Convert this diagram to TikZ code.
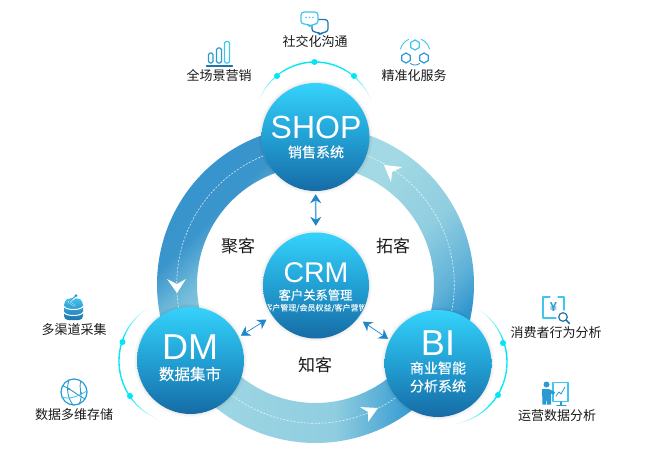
\documentclass[tikz,border=0pt]{standalone}
\usepackage{fontspec}
\setmainfont{Liberation Sans}
\newfontfamily\cjk{Noto Sans CJK SC}
\newfontfamily\cjkm[FakeBold=0.35]{Noto Sans CJK SC}
\usetikzlibrary{arrows.meta}
\definecolor{ringdark}{HTML}{2F90CB}
\definecolor{ringlight}{HTML}{A2D9E4}
\definecolor{ringmid}{HTML}{8FCDE0}
\definecolor{ringA}{HTML}{3A95CC}
\definecolor{ringB}{HTML}{6DB8D8}
\definecolor{ringC}{HTML}{3196CF}
\definecolor{ringD}{HTML}{60B2D8}
\definecolor{ringE}{HTML}{3D9FD3}
\definecolor{balltop}{HTML}{35D2FC}
\definecolor{ballmid}{HTML}{22A0D3}
\definecolor{ballbot}{HTML}{166BA6}
\definecolor{glow}{HTML}{00E6F6}
\definecolor{iconA}{HTML}{2A9AD2}
\definecolor{iconB}{HTML}{40C4F0}
\definecolor{iconC}{HTML}{1F74AE}
\definecolor{arrowblue}{HTML}{1F86CB}
\pgfdeclareverticalshading{ringleftshade}{100bp}{color(0bp)=(ringmid); color(44bp)=(ringmid); color(52bp)=(ringB); color(60bp)=(ringA); color(100bp)=(ringdark)}
\pgfdeclareverticalshading{ringrightshade}{100bp}{color(0bp)=(ringdark); color(26bp)=(ringC); color(34bp)=(ringD); color(47bp)=(ringmid); color(65bp)=(ringlight); color(100bp)=(ringlight)}
\pgfdeclareverticalshading{ringbottomshade}{100bp}{color(0bp)=(ringdark); color(33bp)=(ringE); color(46bp)=(ringmid); color(75bp)=(ringlight); color(100bp)=(ringlight)}
\tikzset{
  ball/.style={circle,inner sep=0pt,minimum size=#1,draw=none,top color=balltop,bottom color=ballbot,middle color=ballmid},
  lbl/.style={inner sep=0pt,text=black!90,font=\cjk\fontsize{13}{15}\selectfont},
  big/.style={inner sep=0pt,text=black!90,font=\cjk\fontsize{17}{19}\selectfont},
  ttl/.style={inner sep=0pt,text=white,font=\fontsize{#1}{#1}\selectfont},
  sub/.style={inner sep=0pt,text=white,font=\cjkm\fontsize{#1}{#1}\selectfont},
  twoway/.style={{Stealth[length=9pt,width=11pt]}-{Stealth[length=9pt,width=11pt]},draw=arrowblue,line width=0.7pt},
  icn/.style={draw=iconA,line width=1.2pt,line join=round,line cap=round},
  icl/.style={draw=iconB,line width=1.2pt,line join=round,line cap=round},
  icd/.style={draw=iconC,line width=1.2pt,line join=round,line cap=round},
  dot/.style={fill=glow,draw=none},
  tipw/.style={fill=white,draw=none}
}
\newcommand\ringseg[3]{\shade[#3] plot[domain=#1:#2,samples=70] ({315.5+158.5*cos(\x)},{284.5+158.5*sin(\x)}) -- plot[domain=#2:#1,samples=70] ({315.5+118.5*cos(\x)},{284.5+118.5*sin(\x)}) -- cycle;}
\newcommand\glowarc[5]{%
  \foreach \k in {0,...,49}{%
    \pgfmathsetmacro\tA{#4+(#5-#4)*\k/50}%
    \pgfmathsetmacro\tB{#4+(#5-#4)*(\k+1)/50}%
    \pgfmathsetmacro\pc{100*min(1,3.6*min((\k+.5)/50,1-(\k+.5)/50))}%
    \pgfmathsetmacro\lw{0.4+1.0*min(1,3*min((\k+.5)/50,1-(\k+.5)/50))}%
    \draw[color=glow!\pc!white,line width=\lw pt] ({#1+#3*cos(\tA)},{#2+#3*sin(\tA)}) -- ({#1+#3*cos(\tB)},{#2+#3*sin(\tB)});
  }}
\newcommand\halo[3]{\foreach \rr in {1,2,3}{\fill[black,opacity=0.025] (#1,#2) circle ({#3+\rr});}}
\newcommand\hexa[3]{\draw[#3] plot[domain=30:390,samples=7] ({#1+5*cos(\x)},{#2+5*sin(\x)}) -- cycle;}
\begin{document}
\begin{tikzpicture}[x=1pt,y=-1pt]
\useasboundingbox (0,0) rectangle (658,466);
% ring
\ringseg{33}{150}{shading=ringbottomshade,shading angle=90}
\ringseg{148}{272}{shading=ringleftshade,shading angle=45}
\ringseg{268}{393}{shading=ringrightshade,shading angle=45}
\draw[white,opacity=.8,line width=.6pt,dash pattern=on 2pt off 1.5pt] plot[domain=0:360,samples=180] ({315.5+138.8*cos(\x)},{284.5+138.8*sin(\x)});
% white ring arrowheads
\fill[tipw] (167,279) -- (177,284) -- (186,279) -- (177,293) -- cycle;
\fill[tipw] (384,165) -- (402,167) -- (392,172) -- (391,182) -- cycle;
\fill[tipw] (378,408) -- (360,407) -- (368,412) -- (368,422) -- cycle;
% glow arcs
\glowarc{315}{122}{60}{198}{342}
\glowarc{182}{361}{63}{111}{239}
\glowarc{444}{362}{63}{-59}{82}
\fill[dot] (277,76) circle (3);
\fill[dot] (314.5,62) circle (3);
\fill[dot] (354,76) circle (3);
\fill[dot] (122.5,342) circle (3);
\fill[dot] (130,396) circle (3);
\fill[dot] (503,343) circle (3);
\fill[dot] (498,395) circle (3);
% balls
\halo{315.5}{137}{54}
\halo{316}{285.5}{53}
\halo{190.5}{360.5}{53.5}
\halo{438}{363.5}{53.5}
\node[ball=108pt] (shop) at (315.5,137) {};
\node[ball=106pt] (crm) at (316,285.5) {};
\node[ball=107pt] (dm) at (190.5,360.5) {};
\node[ball=107pt] (bi) at (438,363.5) {};
% titles
\node[ttl=32] (shopT) at (316,127) {SHOP};
\node[sub=14] (shopS) at (316,152) {销售系统};
\node[ttl=28.5] (crmT) at (316,273) {CRM};
\node[sub=12.3] (crmS) at (315.5,295) {客户关系管理};
\begin{scope}
\clip (316,285.5) circle (52);
\node[sub=8,opacity=.85] (crmD) at (315.5,308) {客户管理/会员权益/客户营销};
\end{scope}
\node[ttl=36] (dmT) at (190,347) {DM};
\node[sub=15.5] (dmS) at (190,374) {数据集市};
\node[ttl=36] (biT) at (438,343) {BI};
\node[sub=14] (biS) at (438,368) {商业智能};
\node[sub=14] (biS2) at (438,386) {分析系统};
% connectors
\draw[draw=arrowblue!30,line width=2pt,shorten >=10pt,shorten <=8pt] (shop) -- (crm);
\draw[twoway,shorten <=3pt,shorten >=6.5pt] (shop) -- (crm);
\draw[twoway,shorten <=2.5pt,shorten >=7pt] (dm.26) -- (crm.215);
\draw[twoway,shorten <=6pt,shorten >=2pt] (crm.-38.7) -- (bi.154);
% loop labels
\node[big] (juke) at (238,246) {聚客};
\node[big] (tuoke) at (393,246) {拓客};
\node[big] (zhike) at (315,365) {知客};
% outer labels
\node[lbl] (l1) at (219,76) {全场景营销};
\node[lbl] (l2) at (315,42) {社交化沟通};
\node[lbl] (l3) at (414,76) {精准化服务};
\node[lbl] (l4) at (74,330) {多渠道采集};
\node[lbl] (l5) at (74,415) {数据多维存储};
\node[lbl] (l6) at (556,333) {消费者行为分析};
\node[lbl] (l7) at (557,416) {运营数据分析};
% bar icon
\draw[icn,rounded corners=1.5pt] (208.5,53) rectangle (213,63);
\draw[icn,rounded corners=1.5pt] (216.5,48) rectangle (221.5,63);
\draw[icl,rounded corners=1.5pt] (224.5,41.5) rectangle (229.5,63);
\draw[icd] (206.5,66) -- (232.5,66);
% chat icon
\draw[icd,rounded corners=3pt] (312,19.5) -- (328,19.5) -- (328,32) -- (323,32) -- (320,35) -- (318,32) -- (312,32) -- cycle;
\draw[icl,fill=white,rounded corners=3pt] (301,12) -- (318,12) -- (318,24) -- (313,24) -- (310,27) -- (308,24) -- (301,24) -- cycle;
\fill[iconB] (306,17.5) circle (.9) (309.5,17.5) circle (.9) (313,17.5) circle (.9);
% hub icon
\hexa{415}{45}{icl}
\hexa{406}{58}{icn}
\hexa{424}{58}{icn}
\draw[icl,line width=.9pt] plot[domain=195:245,samples=10] ({415+15*cos(\x)},{53+15*sin(\x)});
\draw[icl,line width=.9pt] plot[domain=-65:-15,samples=10] ({415+15*cos(\x)},{53+15*sin(\x)});
\draw[icn,line width=.9pt] plot[domain=50:130,samples=10] ({415+7*cos(\x)},{58+7*sin(\x)});
% database icon
\shade[top color=iconB,bottom color=iconC,rounded corners=4pt] (64,301) -- (64,320) -- (83,320) -- (83,301) -- (78,298) -- (69,298) -- cycle;
\draw[white,line width=1pt] plot[domain=0:180,samples=12] ({73.5+9.5*cos(\x)},{306+3.5*sin(\x)});
\draw[white,line width=1pt] plot[domain=0:180,samples=12] ({73.5+9.5*cos(\x)},{312+3.5*sin(\x)});
\draw[white,line width=1.6pt] (76,297) -- (69,302) -- (75,306);
\draw[iconA,line width=.9pt] (76,295.5) -- (69,302) -- (75,306);
\fill[iconA] (76,295.5) circle (1.5);
% globe icon
\draw[icn] (74,392) circle (13);
\draw[icn,line width=.9pt] (63,386) .. controls (70,388) and (78,396) .. (85.5,399);
\draw[icn,line width=.9pt] (69,380) .. controls (66,390) and (68,398) .. (73,405);
\draw[icn,line width=.9pt] (81,381) .. controls (78,388) and (84,396) .. (79,404);
\draw[icl,line width=.9pt] (61.5,397) .. controls (70,400) and (78,396) .. (87,391);
\fill[iconA] (69,389) circle (1.2) (81,393) circle (1.2);
% yen icon
\draw[icl] (550,297) -- (543,297) -- (543,318) -- (556,318);
\draw[icl] (558,297) -- (564,297) -- (564,310);
\node[inner sep=0pt,text=iconA,font=\bfseries\fontsize{13}{13}\selectfont] (yen) at (553.5,307.5) {¥};
\draw[icd,fill=white] (563,317) circle (4.3);
\draw[icd,line width=1.5pt] (566.2,320.2) -- (569.5,323.5);
% presenter icon
\draw[icl] (553,382.5) rectangle (568,401.5);
\draw[icn,line width=.8pt] (556,396) -- (559,392) -- (561,394) -- (565,387);
\draw[icn] (561,402) -- (561,405) (557,405.5) -- (566,405.5);
\fill[iconA] (546.5,384.5) circle (3);
\fill[iconA] (542,389) -- (549,389) -- (555,392) -- (554,394.5) -- (551,393.5) -- (551,404.5) -- (547,404.5) -- (546.5,397) -- (546,404.5) -- (542.5,404.5) -- cycle;
\end{tikzpicture}
\end{document}
